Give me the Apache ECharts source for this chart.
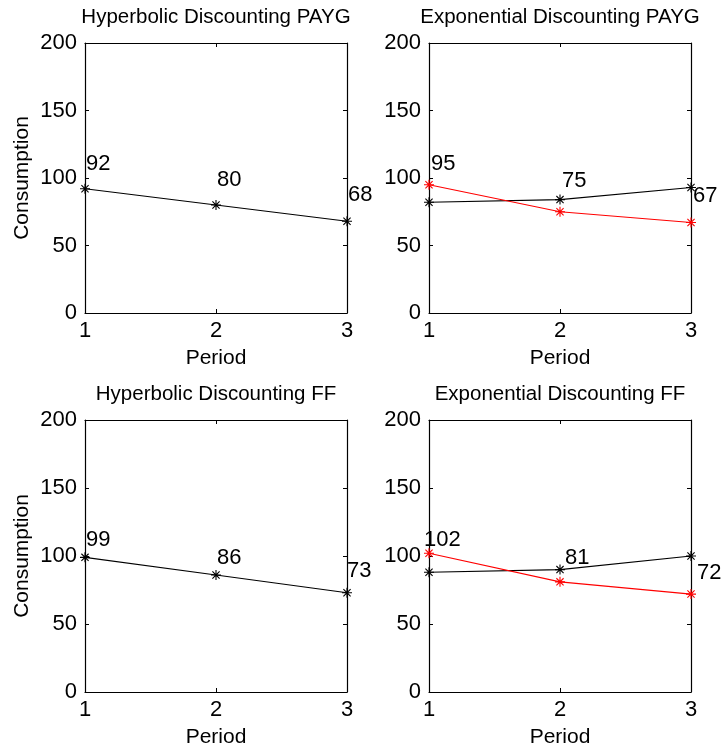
<!DOCTYPE html>
<html>
<head>
<meta charset="utf-8">
<script src="https://cdn.jsdelivr.net/npm/echarts@6/dist/echarts.min.js"></script>
<style>
  html, body { margin: 0; padding: 0; background: #fff; }
  #chart { width: 721px; height: 751px; }
</style>
</head>
<body>
<div id="chart"></div>
<script>
// Consumption paths per period for each discounting model and pension scheme
const periods = [1, 2, 3];
const titles = [
  'Hyperbolic Discounting PAYG',
  'Exponential Discounting PAYG',
  'Hyperbolic Discounting FF',
  'Exponential Discounting FF'
];
const hyperbolicPayg = [92, 80, 68];
const exponentialPaygBlack = [82, 84, 93];
const exponentialPaygRed = [95, 75, 67];
const hyperbolicFf = [99, 86, 73];
const exponentialFfBlack = [88, 90, 100];
const exponentialFfRed = [102, 81, 72];
const yMin = 0, yMax = 200, yStep = 50;

// Value-label offsets (px) from each labelled point: [dx to left edge, dy to centre]
const labelShift = [
  [[1, -25], [1, -25], [1, -26]],
  [[2, -21], [2, -31], [2, -27]],
  [[1, -17], [1, -17], [0, -22]],
  [[-5, -13], [5, -24], [6, -21]]
];

// Panel boxes in pixels: [left, top, width, height]
const boxes = [
  [85, 43, 262, 270],
  [429, 43, 262, 270],
  [85, 420, 262, 272],
  [429, 420, 262, 272]
];

const FONT = "'Liberation Sans', Arial, Helvetica, sans-serif";
const asterisk = 'path://M0,-1L0,1M-1,0L1,0M-0.72,-0.72L0.72,0.72M-0.72,0.72L0.72,-0.72';

const panels = [
  { series: [{ values: hyperbolicPayg, color: '#000', labelled: true }] },
  { series: [{ values: exponentialPaygBlack, color: '#000' },
             { values: exponentialPaygRed, color: '#ff0000', labelled: true }] },
  { series: [{ values: hyperbolicFf, color: '#000', labelled: true }] },
  { series: [{ values: exponentialFfBlack, color: '#000' },
             { values: exponentialFfRed, color: '#ff0000', labelled: true }] }
];

const titleText = { color: '#000', fontFamily: FONT, fontSize: 20.5 };
const nameText = { color: '#000', fontFamily: FONT, fontSize: 21 };
const tickText = { color: '#000', fontFamily: FONT, fontSize: 22 };
const axisLine = { show: true, onZero: false, lineStyle: { color: '#000', width: 1.2 } };
const tick = { show: true, inside: true, length: 4, lineStyle: { color: '#000', width: 1 } };

const grid = [], xAxis = [], yAxis = [], series = [];

panels.forEach((panel, i) => {
  const [l, t, w, h] = boxes[i];
  grid.push({ left: l, top: t, width: w, height: h, containLabel: false });

  // bottom axis with tick labels and "Period"
  xAxis.push({
    gridIndex: i, type: 'value', min: 1, max: 3, interval: 1, position: 'bottom',
    name: 'Period', nameLocation: 'middle', nameGap: 35, nameTextStyle: nameText,
    axisLine, axisTick: tick, splitLine: { show: false },
    axisLabel: Object.assign({ margin: 7 }, tickText)
  });
  // top axis carries the panel title
  xAxis.push({
    gridIndex: i, type: 'value', min: 1, max: 3, interval: 1, position: 'top',
    name: titles[i], nameLocation: 'middle', nameGap: 15, nameTextStyle: titleText,
    axisLine, axisTick: tick, splitLine: { show: false }, axisLabel: { show: false }
  });
  yAxis.push({
    gridIndex: i, type: 'value', min: yMin, max: yMax, interval: yStep, position: 'left',
    name: i % 2 === 0 ? 'Consumption' : '', nameLocation: 'middle', nameGap: 52,
    nameTextStyle: nameText,
    axisLine, axisTick: tick, splitLine: { show: false },
    axisLabel: Object.assign({ margin: 8 }, tickText)
  });
  yAxis.push({
    gridIndex: i, type: 'value', min: yMin, max: yMax, interval: yStep, position: 'right',
    axisLine, axisTick: tick, splitLine: { show: false }, axisLabel: { show: false }
  });

  panel.series.forEach(s => {
    series.push({
      type: 'line',
      xAxisIndex: i * 2, yAxisIndex: i * 2,
      clip: false,
      symbol: asterisk, symbolSize: 10, symbolKeepAspect: true,
      showAllSymbol: true,
      lineStyle: { color: s.color, width: 1.1 },
      itemStyle: { color: 'rgba(0,0,0,0)', borderColor: s.color, borderWidth: 1.1 },
      emphasis: { disabled: true },
      z: s.color === '#000' ? 2 : 3,
      data: periods.map((p, k) => {
        const item = { value: [p, s.values[k]] };
        if (s.labelled) {
          item.label = {
            show: true, position: 'inside', align: 'left', verticalAlign: 'middle',
            offset: labelShift[i][k],
            formatter: String(s.values[k]),
            color: '#000', fontFamily: FONT, fontSize: 22,
            textBorderWidth: 0
          };
        }
        return item;
      })
    });
  });
});

const chart = echarts.init(document.getElementById('chart'), null, { renderer: 'canvas' });
chart.setOption({
  animation: false,
  backgroundColor: '#fff',
  textStyle: { fontFamily: FONT },
  grid, xAxis, yAxis, series
});
</script>
</body>
</html>
